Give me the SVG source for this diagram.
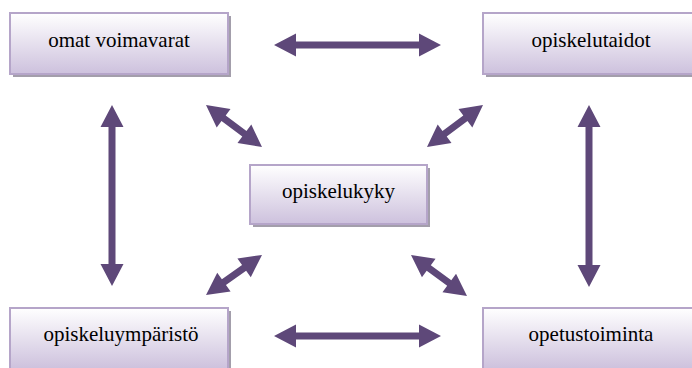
<svg xmlns="http://www.w3.org/2000/svg" width="692" height="368" viewBox="0 0 692 368">
<defs>
<linearGradient id="g" x1="0" y1="0" x2="0" y2="1">
<stop offset="0" stop-color="#ffffff"/>
<stop offset="1" stop-color="#cdc1dd"/>
</linearGradient>
<style>
.sh{fill:#a39eab}
.bx{fill:url(#g);stroke:#b5a5c9;stroke-width:2}
.t{font-family:'Liberation Serif','Times New Roman',Tinos,'DejaVu Serif',serif;font-size:21px;fill:#000;text-anchor:middle}
.ar{fill:#5e4879}
</style>
</defs>
<g id="connectors">
<path class="ar" transform="translate(274,45)" d="M0,0 L22,-11.5 L22,-3.5 L145,-3.5 L145,-11.5 L167,0 L145,11.5 L145,3.5 L22,3.5 L22,11.5 Z"/>
<path class="ar" transform="translate(274,336)" d="M0,0 L22,-11.5 L22,-3.5 L145,-3.5 L145,-11.5 L167,0 L145,11.5 L145,3.5 L22,3.5 L22,11.5 Z"/>
<path class="ar" transform="translate(112,105) rotate(90)" d="M0,0 L22,-11.5 L22,-3.5 L159,-3.5 L159,-11.5 L181,0 L159,11.5 L159,3.5 L22,3.5 L22,11.5 Z"/>
<path class="ar" transform="translate(589,105) rotate(90)" d="M0,0 L22,-11.5 L22,-3.5 L160,-3.5 L160,-11.5 L182,0 L160,11.5 L160,3.5 L22,3.5 L22,11.5 Z"/>
<path class="ar" transform="translate(206,105) rotate(36.87)" d="M0,0 L22,-11.5 L22,-3.5 L48,-3.5 L48,-11.5 L70,0 L48,11.5 L48,3.5 L22,3.5 L22,11.5 Z"/>
<path class="ar" transform="translate(483,105) rotate(143.13)" d="M0,0 L22,-11.5 L22,-3.5 L48,-3.5 L48,-11.5 L70,0 L48,11.5 L48,3.5 L22,3.5 L22,11.5 Z"/>
<path class="ar" transform="translate(262,255) rotate(144.46)" d="M0,0 L22,-11.5 L22,-3.5 L46.8,-3.5 L46.8,-11.5 L68.8,0 L46.8,11.5 L46.8,3.5 L22,3.5 L22,11.5 Z"/>
<path class="ar" transform="translate(411,255) rotate(36.2)" d="M0,0 L22,-11.5 L22,-3.5 L47.4,-3.5 L47.4,-11.5 L69.4,0 L47.4,11.5 L47.4,3.5 L22,3.5 L22,11.5 Z"/>
</g>
<g id="omat-voimavarat">
<rect class="sh" x="13" y="16" width="218" height="61"/>
<rect class="bx" x="10" y="13" width="218" height="61"/>
<text class="t" x="119" y="47" font-family="Liberation Serif, serif">omat voimavarat</text>
</g>
<g id="opiskelutaidot">
<rect class="sh" x="486" y="16" width="218" height="61"/>
<rect class="bx" x="483" y="13" width="218" height="61"/>
<text class="t" x="591" y="47" font-family="Liberation Serif, serif">opiskelutaidot</text>
</g>
<g id="opiskelukyky">
<rect class="sh" x="253" y="168" width="177" height="59"/>
<rect class="bx" x="250" y="165" width="177" height="59"/>
<text class="t" x="338.5" y="197.5" font-family="Liberation Serif, serif">opiskelukyky</text>
</g>
<g id="opiskeluymparisto">
<rect class="sh" x="13" y="311" width="218" height="61"/>
<rect class="bx" x="10" y="308" width="218" height="61"/>
<text class="t" x="121" y="341" font-family="Liberation Serif, serif">opiskeluympäristö</text>
</g>
<g id="opetustoiminta">
<rect class="sh" x="486" y="311" width="218" height="61"/>
<rect class="bx" x="483" y="308" width="218" height="61"/>
<text class="t" x="591" y="341" font-family="Liberation Serif, serif">opetustoiminta</text>
</g>
</svg>
